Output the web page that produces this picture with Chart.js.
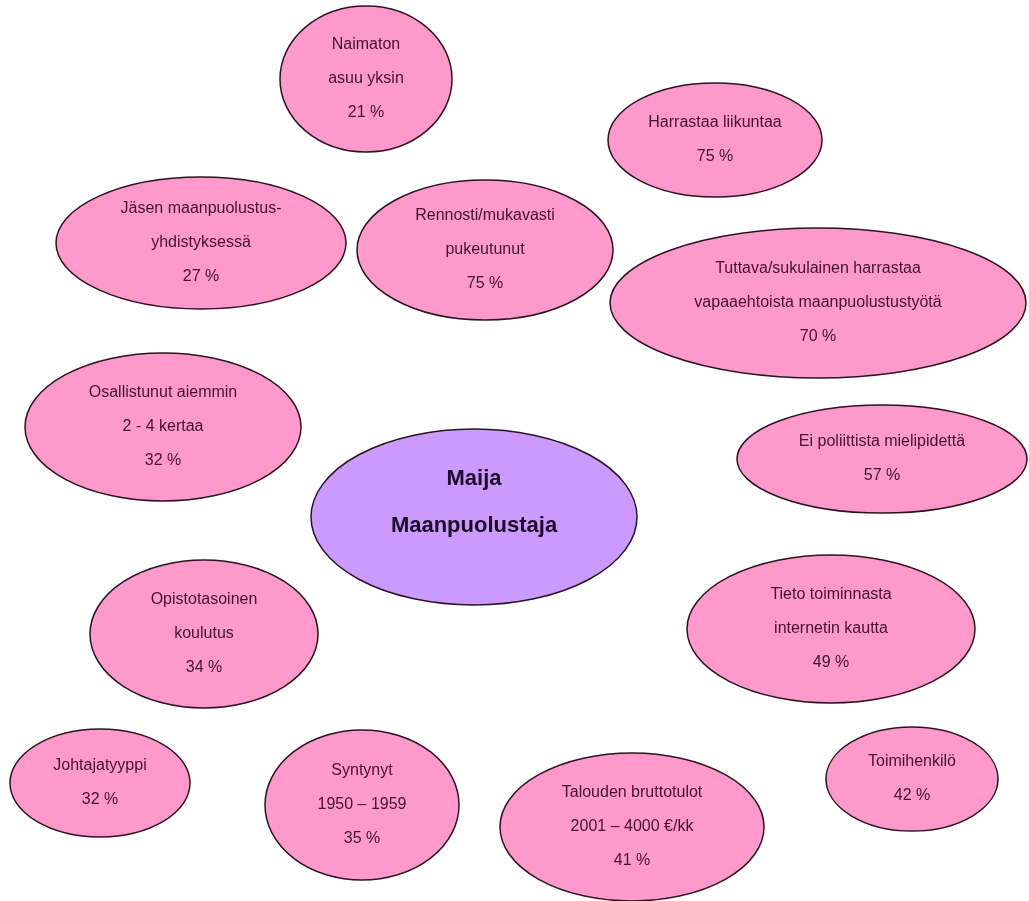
<!DOCTYPE html>
<html>
<head>
<meta charset="utf-8">
<script src="https://cdn.jsdelivr.net/npm/chart.js@4"></script>
<style>
  body { margin: 0; background: #fff; }
  #wrap { width: 1029px; height: 901px; }
</style>
</head>
<body>
<div id="wrap"><canvas id="myChart" width="1029" height="901"></canvas></div>
<script>
// ellipse texts (one entry per line)
const texts = [
  ['Naimaton', 'asuu yksin', '21 %'],
  ['Harrastaa liikuntaa', '75 %'],
  ['Jäsen maanpuolustus-', 'yhdistyksessä', '27 %'],
  ['Rennosti/mukavasti', 'pukeutunut', '75 %'],
  ['Tuttava/sukulainen harrastaa', 'vapaaehtoista maanpuolustustyötä', '70 %'],
  ['Osallistunut aiemmin', '2 - 4 kertaa', '32 %'],
  ['Maija', 'Maanpuolustaja'],
  ['Ei poliittista mielipidettä', '57 %'],
  ['Opistotasoinen', 'koulutus', '34 %'],
  ['Tieto toiminnasta', 'internetin kautta', '49 %'],
  ['Johtajatyyppi', '32 %'],
  ['Syntynyt', '1950 – 1959', '35 %'],
  ['Talouden bruttotulot', '2001 – 4000 €/kk', '41 %'],
  ['Toimihenkilö', '42 %'],
];
// centre points and half widths / half heights, in axis units
const centerX = [366, 715, 201, 485, 818, 163, 474, 882, 204, 831, 100, 362, 632, 912];
const centerY = [79, 140, 243, 250, 303, 427, 517, 459, 634, 629, 783, 805, 827, 779];
const radiusX = [86, 107, 145, 128, 208, 138, 163, 145, 114, 144, 90, 97, 132, 86];
const radiusY = [73, 57, 66, 70, 75, 74, 88, 54, 74, 74, 54, 75, 74, 52];
const mainIndex = 6; // keskimmäinen ellipsi

const pink = '#ff99cc';
const purple = '#cc99ff';

// piirtää ellipsit ja tekstit pisteiden kohdalle
const ellipsePlugin = {
  id: 'ellipses',
  afterDatasetsDraw(chart) {
    const ctx = chart.ctx;
    const xs = chart.scales.x;
    const ys = chart.scales.y;
    ctx.save();
    centerX.forEach((cx, i) => {
      const px = xs.getPixelForValue(cx);
      const py = ys.getPixelForValue(centerY[i]);
      const rx = Math.abs(xs.getPixelForValue(cx + radiusX[i]) - px);
      const ry = Math.abs(ys.getPixelForValue(centerY[i] + radiusY[i]) - py);
      ctx.beginPath();
      ctx.ellipse(px, py, rx, ry, 0, 0, Math.PI * 2);
      ctx.fillStyle = i === mainIndex ? purple : pink;
      ctx.fill();
      ctx.lineWidth = 1.5;
      ctx.strokeStyle = '#2a1420';
      ctx.stroke();

      const lines = texts[i];
      const isMain = i === mainIndex;
      const lh = isMain ? 47 : 34;
      ctx.font = isMain ? 'bold 22px "Liberation Sans", Arial, sans-serif' : '16px "Liberation Sans", Arial, sans-serif';
      ctx.fillStyle = isMain ? '#1c0d26' : '#3f1430';
      ctx.textAlign = 'center';
      ctx.textBaseline = 'middle';
      const top = py - (lines.length - 1) * lh / 2 - (isMain ? 15 : 0);
      lines.forEach((t, j) => ctx.fillText(t, px, top + j * lh));
    });
    ctx.restore();
  },
};

const config = {
  type: 'scatter',
  data: {
    datasets: [{
      data: centerX.map((x, i) => ({ x, y: centerY[i] })),
      pointRadius: 0,
      pointHoverRadius: 0,
    }],
  },
  options: {
    responsive: false,
    animation: false,
    layout: { padding: 0 },
    scales: {
      x: { type: 'linear', min: 0, max: 1029, display: false },
      y: { type: 'linear', min: 0, max: 901, reverse: true, display: false },
    },
    plugins: {
      legend: { display: false },
      tooltip: { enabled: false },
    },
  },
  plugins: [ellipsePlugin],
};

new Chart(document.getElementById('myChart'), config);
</script>
</body>
</html>
